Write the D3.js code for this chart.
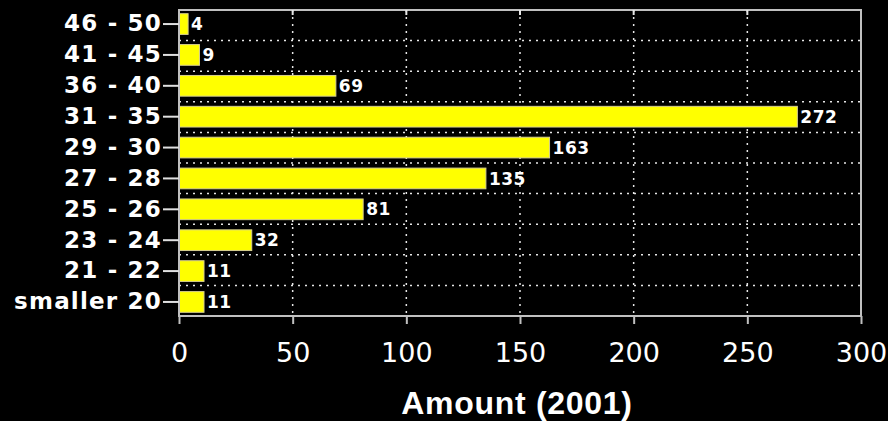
<!DOCTYPE html>
<html>
<head>
<meta charset="utf-8">
<script src="https://cdn.jsdelivr.net/npm/d3@7"></script>
<style>
  body { margin: 0; background: #000; }
  svg { display: block; }
</style>
</head>
<body>
<svg id="chart"></svg>
<script>
// age groups, top to bottom
const categories = ['46 - 50', '41 - 45', '36 - 40', '31 - 35', '29 - 30',
                    '27 - 28', '25 - 26', '23 - 24', '21 - 22', 'smaller 20'];
const amounts = [4, 9, 69, 272, 163, 135, 81, 32, 11, 11];
const xTicks = [0, 50, 100, 150, 200, 250, 300];
const xTitle = 'Amount (2001)';

const width = 888, height = 421;
const margin = {top: 10, right: 27, bottom: 105, left: 179};
const innerW = width - margin.left - margin.right;
const innerH = height - margin.top - margin.bottom;

const svg = d3.select('#chart')
  .attr('width', width)
  .attr('height', height);

const chart = svg.append('g')
  .attr('transform', `translate(${margin.left},${margin.top})`);

const data = categories.map((c, i) => ({cat: c, value: amounts[i]}));

const x = d3.scaleLinear().domain([0, 300]).range([0, innerW]);
const y = d3.scaleBand().domain(categories).range([0, innerH]).paddingInner(0.33).paddingOuter(0.12);

// dotted grid: vertical at ticks, horizontal between bands
chart.append('g')
  .selectAll('line')
  .data(xTicks.slice(1, -1))
  .join('line')
    .attr('x1', d => x(d)).attr('x2', d => x(d))
    .attr('y1', 0).attr('y2', innerH)
    .attr('stroke', '#e6e6e6')
    .attr('stroke-width', 1.5)
    .attr('stroke-dasharray', '2,5');

const step = innerH / categories.length;
chart.append('g')
  .selectAll('line')
  .data(d3.range(1, categories.length))
  .join('line')
    .attr('x1', 0).attr('x2', innerW)
    .attr('y1', d => d * step).attr('y2', d => d * step)
    .attr('stroke', '#e6e6e6')
    .attr('stroke-width', 1.5)
    .attr('stroke-dasharray', '2,5');

// bars
chart.append('g')
  .selectAll('rect')
  .data(data)
  .join('rect')
    .attr('x', 0)
    .attr('y', d => y(d.cat))
    .attr('width', d => x(d.value))
    .attr('height', y.bandwidth())
    .attr('fill', '#ffff00')
    .attr('stroke', '#d8d090')
    .attr('stroke-width', 1);

// value labels
chart.append('g')
  .selectAll('text')
  .data(data)
  .join('text')
    .attr('x', d => x(d.value) + 3)
    .attr('y', d => y(d.cat) + y.bandwidth() / 2)
    .attr('dy', '0.36em')
    .attr('fill', '#fff')
    .attr('font-family', 'DejaVu Sans, sans-serif')
    .attr('font-weight', 'bold')
    .attr('font-size', 17)
    .attr('letter-spacing', 0.5)
    .text(d => d.value);

// frame
chart.append('rect')
  .attr('x', 0).attr('y', 0)
  .attr('width', innerW).attr('height', innerH)
  .attr('fill', 'none')
  .attr('stroke', '#c0c0c0')
  .attr('stroke-width', 2);

// x axis
const xAxis = d3.axisBottom(x).tickValues(xTicks).tickSize(8).tickPadding(19);
const xAxisG = chart.append('g')
  .attr('transform', `translate(0,${innerH})`)
  .call(xAxis);
xAxisG.select('.domain').remove();
xAxisG.selectAll('line').attr('stroke', '#c0c0c0').attr('stroke-width', 2);
xAxisG.selectAll('text')
  .attr('fill', '#fff')
  .attr('font-family', 'DejaVu Sans, sans-serif')
  .attr('font-size', 27);

// small ticks at top
chart.append('g')
  .selectAll('line')
  .data(xTicks.slice(1, -1))
  .join('line')
    .attr('x1', d => x(d)).attr('x2', d => x(d))
    .attr('y1', 0).attr('y2', 5)
    .attr('stroke', '#e6e6e6')
    .attr('stroke-width', 2);

// y axis
const yAxis = d3.axisLeft(y).tickSize(16).tickPadding(1);
const yAxisG = chart.append('g').call(yAxis);
yAxisG.select('.domain').remove();
yAxisG.selectAll('line').attr('stroke', '#e0e0e0').attr('stroke-width', 2);
yAxisG.selectAll('text')
  .attr('fill', '#fff')
  .attr('font-family', 'DejaVu Sans, sans-serif')
  .attr('font-weight', 'bold')
  .attr('font-size', 23)
  .attr('letter-spacing', 1.2);

// axis title
svg.append('text')
  .attr('x', 517)
  .attr('y', 414)
  .attr('text-anchor', 'middle')
  .attr('fill', '#fff')
  .attr('font-family', 'Liberation Sans, Arial, sans-serif')
  .attr('font-weight', 'bold')
  .attr('font-size', 32)
  .attr('letter-spacing', 0.7)
  .text(xTitle);
</script>
</body>
</html>
